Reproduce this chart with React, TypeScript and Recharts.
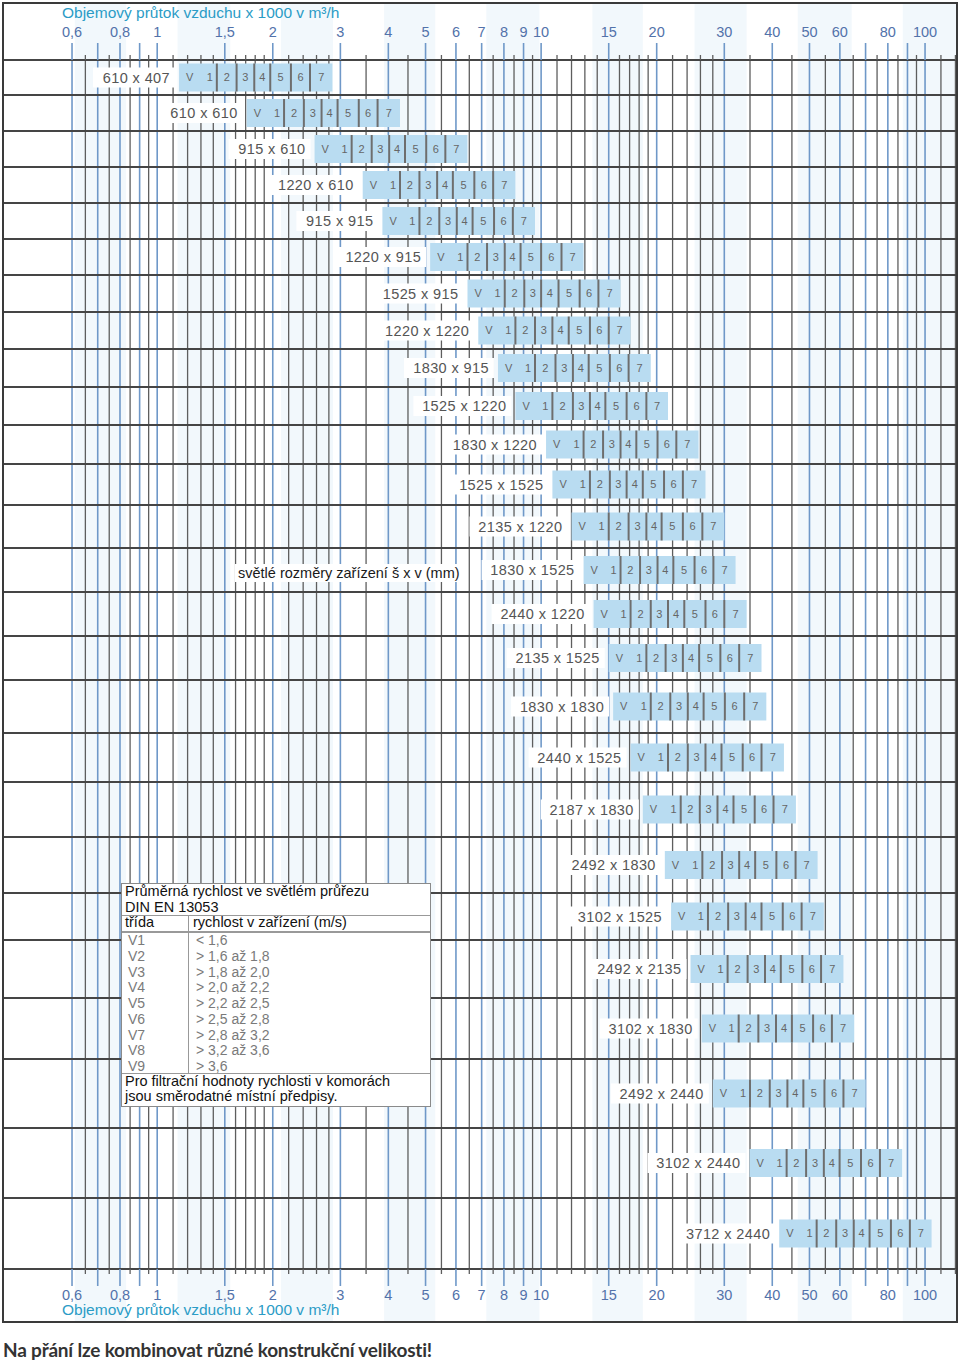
import React from 'react';
import { ComposedChart, XAxis, YAxis, Scatter, ReferenceArea, ReferenceLine, Label } from 'recharts';

// unit sizes (KG) and clear inner dimensions w x h in mm
const KG_SIZES = ['21', '43', '64', '85', '96', '130', '159', '170', '190', '210', '260', '270', '300', '320', '340', '370', '380', '430', '450', '510', '530', '600', '640', '680', '850', '1000'];
const CLEAR_SIZES = ['610 x 407', '610 x 610', '915 x 610', '1220 x 610', '915 x 915', '1220 x 915', '1525 x 915', '1220 x 1220', '1830 x 915', '1525 x 1220', '1830 x 1220', '1525 x 1525', '2135 x 1220', '1830 x 1525', '2440 x 1220', '2135 x 1525', '1830 x 1830', '2440 x 1525', '2187 x 1830', '2492 x 1830', '3102 x 1525', '2492 x 2135', '3102 x 1830', '2492 x 2440', '3102 x 2440', '3712 x 2440'];

// air flow (x1000 m3/h) read at the edges of the class cells of each row
const FLOW_START = [1.14, 1.71, 2.57, 3.43, 3.86, 5.14, 6.43, 6.86, 7.72, 8.57, 10.3, 10.7, 12.0, 12.9, 13.7, 15.0, 15.4, 17.1, 18.4, 21.0, 21.8, 24.5, 26.2, 28.0, 34.9, 41.7];
const FLOW_V1 = [1.43, 2.14, 3.21, 4.29, 4.82, 6.43, 8.04, 8.57, 9.64, 10.7, 12.9, 13.4, 15.0, 16.1, 17.1, 18.8, 19.3, 21.4, 23.1, 26.3, 27.2, 30.6, 32.7, 35.0, 43.6, 52.2];
const FLOW_V2 = [1.61, 2.41, 3.62, 4.82, 5.43, 7.23, 9.04, 9.64, 10.9, 12.1, 14.5, 15.1, 16.9, 18.1, 19.3, 21.1, 21.7, 24.1, 25.9, 29.6, 30.7, 34.5, 36.8, 39.4, 49.0, 58.7];
const FLOW_V3 = [1.79, 2.68, 4.02, 5.36, 6.03, 8.04, 10.0, 10.7, 12.1, 13.4, 16.1, 16.7, 18.8, 20.1, 21.4, 23.4, 24.1, 26.8, 28.8, 32.8, 34.1, 38.3, 40.9, 43.8, 54.5, 65.2];
const FLOW_V4 = [1.97, 2.95, 4.42, 5.89, 6.63, 8.84, 11.1, 11.8, 13.3, 14.7, 17.7, 18.4, 20.6, 22.1, 23.6, 25.8, 26.5, 29.5, 31.7, 36.1, 37.5, 42.1, 45.0, 48.2, 59.9, 71.7];
const FLOW_V5 = [2.23, 3.35, 5.02, 6.70, 7.54, 10.0, 12.6, 13.4, 15.1, 16.7, 20.1, 20.9, 23.4, 25.1, 26.8, 29.3, 30.1, 33.5, 36.0, 41.0, 42.6, 47.9, 51.1, 54.7, 68.1, 81.5];
const FLOW_V6 = [2.50, 3.75, 5.63, 7.50, 8.44, 11.3, 14.1, 15.0, 16.9, 18.8, 22.5, 23.4, 26.3, 28.1, 30.0, 32.8, 33.8, 37.5, 40.3, 46.0, 47.7, 53.6, 57.2, 61.3, 76.3, 91.3];
const FLOW_V7 = [2.86, 4.29, 6.43, 8.57, 9.64, 12.9, 16.1, 17.1, 19.3, 21.4, 25.7, 26.8, 30.0, 32.1, 34.3, 37.5, 38.6, 42.9, 46.1, 52.5, 54.5, 61.3, 65.4, 70.0, 87.2, 104];
const CELL_LABELS = ['1', '2', '3', '4', '5', '6', '7'];

// axis
const TICK_LABELS = [0.6, 0.8, 1, 1.5, 2, 3, 4, 5, 6, 7, 8, 9, 10, 15, 20, 30, 40, 50, 60, 80, 100];
const MAJOR_LINES = [0.6, 0.7, 0.8, 0.9, 1, 1.5, 2, 3, 4, 5, 6, 7, 8, 9, 10, 15, 20, 30, 40, 50, 60, 70, 80, 90, 100];
const MINOR_LINES = [0.65, 0.75, 0.85, 0.95, 1.1, 1.2, 1.3, 1.4, 1.6, 1.7, 1.8, 1.9, 2.2, 2.4, 2.6, 2.8, 3.5, 4.5, 5.5, 6.5, 7.5, 8.5, 9.5, 11, 12, 13, 14, 16, 17, 18, 19, 22, 24, 26, 28, 35, 45, 55, 65, 75, 85, 95, 110, 120];
const BANDS = [[0.61, 0.83], [1.13, 1.55], [2.1, 2.87], [3.9, 5.3], [7.2, 9.9], [13.6, 18.4], [25.1, 34.3], [46.6, 64.4], [87.5, 121]];

// legend table
const CLASS_NAMES = ['V1', 'V2', 'V3', 'V4', 'V5', 'V6', 'V7', 'V8', 'V9'];
const CLASS_RANGES = ['< 1,6', '> 1,6 až 1,8', '> 1,8 až 2,0', '> 2,0 až 2,2', '> 2,2 až 2,5', '> 2,5 až 2,8', '> 2,8 až 3,2', '> 3,2 až 3,6', '> 3,6'];

// layout
const ROW_HEIGHTS = [35, 36, 36, 36, 36, 36, 37, 37, 38, 38, 39, 41, 43, 44, 44, 44, 53, 49, 55, 56, 47, 58, 61, 69, 70, 71];
const X_DOMAIN: [number, number] = [0.399, 120.4];
const BOX_HALF = 14;
const FONT = '"Liberation Sans", Arial, sans-serif';
const BLUE_LINE = '#6f98c8';
const MINOR_LINE = '#5e5e5e';
const ROW_LINE = '#454545';
const BOX_FILL = '#b9dcf1';

const rowTops: number[] = [];
ROW_HEIGHTS.forEach((h, i) => rowTops.push(i === 0 ? 0 : rowTops[i - 1] + ROW_HEIGHTS[i - 1]));
const ROW_TOTAL = rowTops[rowTops.length - 1] + ROW_HEIGHTS[ROW_HEIGHTS.length - 1];
const rowCenters = rowTops.map((t, i) => t + ROW_HEIGHTS[i] / 2);
const ALL_TICKS = [...MAJOR_LINES, ...MINOR_LINES].sort((a, b) => a - b);

const labelPoints = KG_SIZES.map((kg, i) => ({ x: FLOW_START[i], y: rowCenters[i], size: CLEAR_SIZES[i] }));

const fmt = (v: number) => String(v).replace('.', ',');

const FlowTick = ({ x, y, payload, side }: any) => {
  const v = payload.value;
  const major = MAJOR_LINES.includes(v);
  const dir = side === 'top' ? -1 : 1;
  return (
    <g>
      <line x1={x} x2={x} y1={y} y2={y + dir * (major ? 17 : 5)} stroke={major ? BLUE_LINE : MINOR_LINE} strokeWidth={major ? 1.6 : 1.3} />
      {TICK_LABELS.includes(v) && (
        <text x={x} y={side === 'top' ? y - 23 : y + 31} textAnchor="middle" fill="#5272aa" fontSize={14.5} fontFamily={FONT}>
          {fmt(v)}
        </text>
      )}
    </g>
  );
};

const KgTick = ({ x, y, payload }: any) => {
  const i = rowCenters.indexOf(payload.value);
  return (
    <g fontFamily={FONT} fontSize={14} fontWeight={700} fill="#4664a8" textAnchor="middle">
      <text x={x + 32} y={y - 3}>KG</text>
      <text x={x + 32} y={y + 13}>{KG_SIZES[i]}</text>
    </g>
  );
};

const SizeLabel = ({ cx, cy, payload }: any) => {
  const text = payload.size;
  const w = text.length * 8 + 8;
  const right = cx - 6;
  return (
    <g>
      <rect x={right - w} y={cy - 10} width={w + 2} height={20} fill="#fff" />
      <text x={right - 3} y={cy + 5} textAnchor="end" fontSize={14.5} letterSpacing={0.4} fill="#555" fontFamily={FONT}>
        {text}
      </text>
    </g>
  );
};

const cellLabel = { fill: '#666', fontSize: 11, fontFamily: FONT };

export default function App() {
  const edges = (i: number) => [FLOW_START[i], FLOW_V1[i], FLOW_V2[i], FLOW_V3[i], FLOW_V4[i], FLOW_V5[i], FLOW_V6[i], FLOW_V7[i]];

  return (
    <div style={{ position: 'absolute', left: 0, top: 0, width: 960, height: 1366, background: '#fff', fontFamily: FONT }}>
      <div style={{ position: 'absolute', left: 4, top: 4 }}>
        <ComposedChart width={952} height={1317} margin={{ top: 0, right: 0, bottom: 0, left: 0 }}>
          <XAxis xAxisId="top" orientation="top" type="number" dataKey="x" scale="log" domain={X_DOMAIN} allowDataOverflow
            ticks={ALL_TICKS} interval={0} height={56} tickSize={0} tickMargin={0} tickLine={false}
            axisLine={{ stroke: ROW_LINE, strokeWidth: 2 }} tick={(p: any) => <FlowTick {...p} side="top" />} />
          <XAxis xAxisId="bottom" orientation="bottom" type="number" dataKey="x" scale="log" domain={X_DOMAIN} allowDataOverflow
            ticks={ALL_TICKS} interval={0} height={52} tickSize={0} tickMargin={0} tickLine={false}
            axisLine={{ stroke: ROW_LINE, strokeWidth: 2 }} tick={(p: any) => <FlowTick {...p} side="bottom" />} />
          <YAxis type="number" dataKey="y" domain={[0, ROW_TOTAL]} reversed allowDataOverflow width={0}
            ticks={rowCenters} interval={0} tickSize={0} tickMargin={0} tickLine={false} axisLine={false}
            tick={(p: any) => <KgTick {...p} />} />

          {BANDS.map(([a, b], i) => (
            <ReferenceArea key={`band${i}`} xAxisId="top" x1={a} x2={b} y1={-56} y2={ROW_TOTAL + 52}
              fill="#f2f8fc" fillOpacity={1} stroke="none" ifOverflow="visible" zIndex={-150} />
          ))}
          {MINOR_LINES.map((v) => (
            <ReferenceLine key={`mi${v}`} xAxisId="top" x={v} stroke={MINOR_LINE} strokeWidth={1.3} zIndex={-120} />
          ))}
          {MAJOR_LINES.map((v) => (
            <ReferenceLine key={`ma${v}`} xAxisId="top" x={v} stroke={BLUE_LINE} strokeWidth={1.6} zIndex={-120} />
          ))}
          {rowTops.slice(1).map((t) => (
            <ReferenceLine key={`row${t}`} xAxisId="top" y={t} stroke={ROW_LINE} strokeWidth={2} zIndex={-110} />
          ))}

          {KG_SIZES.map((kg, i) => {
            const e = edges(i);
            const c = rowCenters[i];
            return CELL_LABELS.map((lab, j) => (
              <ReferenceArea key={`box${i}-${j}`} xAxisId="top" x1={e[j]} x2={e[j + 1]} y1={c - BOX_HALF} y2={c + BOX_HALF}
                fill={BOX_FILL} fillOpacity={1} stroke="none" ifOverflow="visible" zIndex={100}>
                {j === 0 && <Label value="V" position="insideLeft" offset={7} {...cellLabel} />}
                <Label value={lab} position={j === 0 ? 'insideRight' : 'center'} offset={4} {...cellLabel} />
              </ReferenceArea>
            ));
          })}
          {KG_SIZES.map((kg, i) => {
            const e = edges(i);
            const c = rowCenters[i];
            return e.slice(1, 7).map((f, j) => (
              <ReferenceLine key={`sep${i}-${j}`} xAxisId="top" segment={[{ x: f, y: c - BOX_HALF }, { x: f, y: c + BOX_HALF }]}
                stroke="#6e6e6e" strokeWidth={2} ifOverflow="visible" zIndex={150} />
            ));
          })}

          <Scatter xAxisId="top" data={labelPoints} isAnimationActive={false} shape={(p: any) => <SizeLabel {...p} />} />
        </ComposedChart>
      </div>

      <div style={{ position: 'absolute', left: 2, top: 2, width: 956, height: 1321, border: '2px solid #3a3a3a', boxSizing: 'border-box' }} />

      <div style={{ position: 'absolute', left: 62, top: 4, fontSize: 15.5, lineHeight: '18px', color: '#2b9cc6' }}>
        Objemový průtok vzduchu x 1000 v m³/h
      </div>
      <div style={{ position: 'absolute', left: 62, top: 1301, fontSize: 15.5, lineHeight: '18px', color: '#2b9cc6' }}>
        Objemový průtok vzduchu x 1000 v m³/h
      </div>

      <div style={{ position: 'absolute', left: 235, top: 564, padding: '0 3px', background: '#fff', fontSize: 14.5, lineHeight: '18px', color: '#1a1a1a' }}>
        světlé rozměry zařízení š x v (mm)
      </div>

      <div style={{ position: 'absolute', left: 121, top: 883, width: 310, height: 224, background: '#fff', border: '1.5px solid #8a8a8a', boxSizing: 'border-box', fontSize: 14.5, lineHeight: '15.5px', color: '#111' }}>
        <div style={{ position: 'absolute', left: 3, top: 0 }}>
          Průměrná rychlost ve světlém průřezu<br />DIN EN 13053
        </div>
        <div style={{ position: 'absolute', left: 0, right: 0, top: 31, borderTop: '1px solid #999' }} />
        <div style={{ position: 'absolute', left: 3, top: 31 }}>třída</div>
        <div style={{ position: 'absolute', left: 71, top: 31 }}>rychlost v zařízení (m/s)</div>
        <div style={{ position: 'absolute', left: 0, right: 0, top: 47, borderTop: '2px solid #999' }} />
        <div style={{ position: 'absolute', left: 66, top: 32, height: 158, borderLeft: '1px solid #999' }} />
        {CLASS_NAMES.map((n, i) => (
          <div key={n} style={{ position: 'absolute', top: 49 + i * 15.75, left: 6, width: 300, fontSize: 14, lineHeight: '15.75px', color: '#7a7a7a' }}>
            <span>{n}</span>
            <span style={{ position: 'absolute', left: 68 }}>{CLASS_RANGES[i]}</span>
          </div>
        ))}
        <div style={{ position: 'absolute', left: 0, right: 0, top: 189, borderTop: '1px solid #999' }} />
        <div style={{ position: 'absolute', left: 3, top: 190, lineHeight: '15px' }}>
          Pro filtrační hodnoty rychlosti v komorách<br />jsou směrodatné místní předpisy.
        </div>
      </div>

      <div style={{ position: 'absolute', left: 3, top: 1338, fontSize: 19, lineHeight: '24px', color: '#333', fontFamily: 'Lato, "Liberation Sans", sans-serif', fontWeight: 700, letterSpacing: -0.2 }}>
        Na přání lze kombinovat různé konstrukční velikosti!
      </div>
    </div>
  );
}
